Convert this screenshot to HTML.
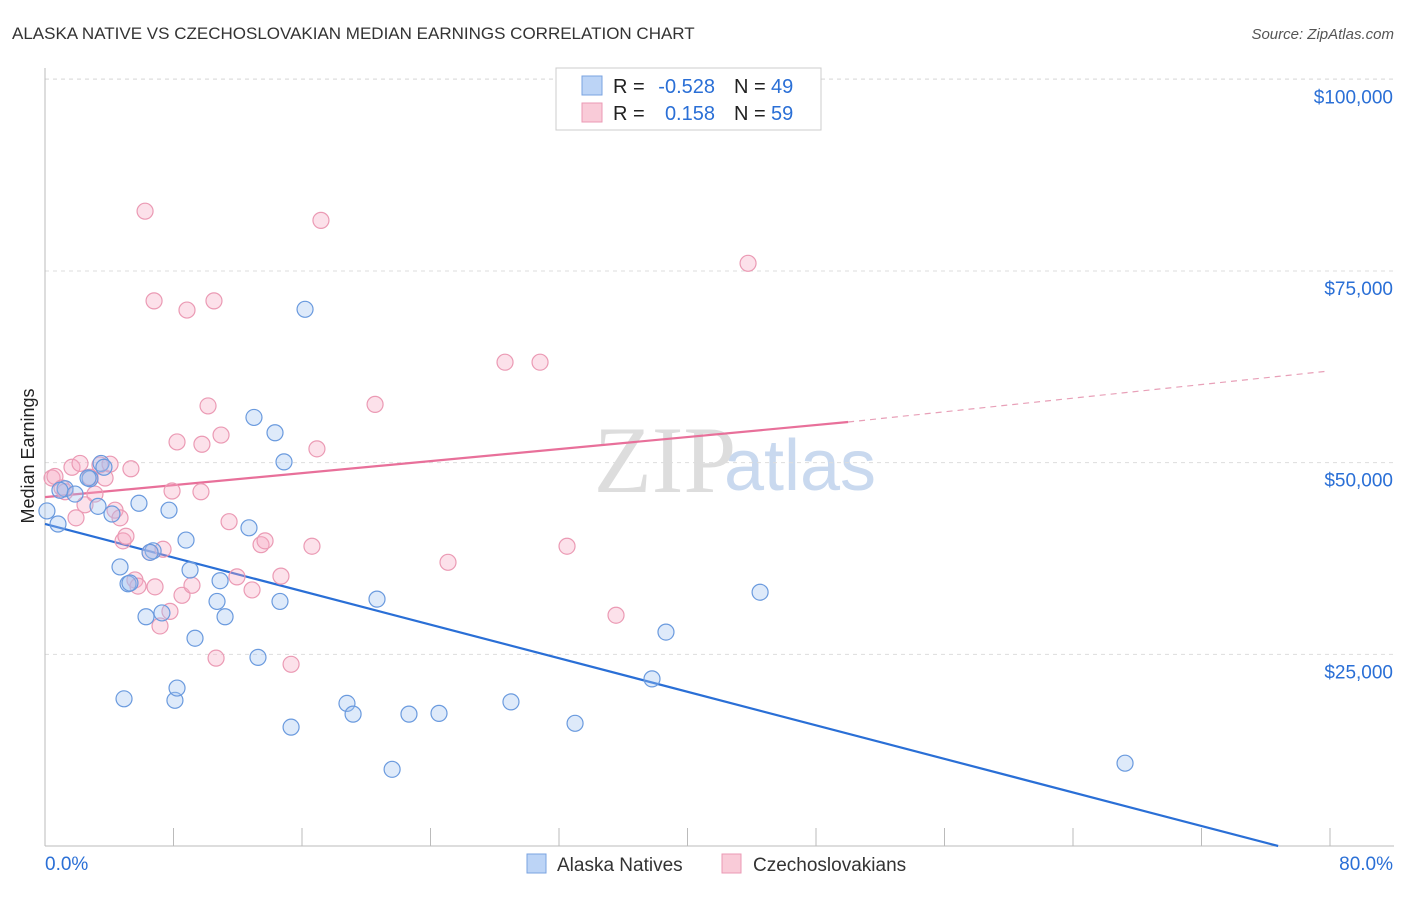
<!DOCTYPE html>
<html><head><meta charset="utf-8"><style>
body{margin:0;background:#fff;font-family:"Liberation Sans",sans-serif}
</style></head><body>
<svg id="c" width="1406" height="892" xmlns="http://www.w3.org/2000/svg">
<text x="12" y="39" font-size="17" fill="#333">ALASKA NATIVE VS CZECHOSLOVAKIAN MEDIAN EARNINGS CORRELATION CHART</text>
<text x="1394" y="39" font-size="15" fill="#555" text-anchor="end" font-style="italic">Source: ZipAtlas.com</text>
<text x="665" y="492" font-size="95" fill="#ddd" font-family="Liberation Serif,serif" text-anchor="middle">ZIP</text>
<text x="800" y="490" font-size="72" fill="#c9d9ef" text-anchor="middle">atlas</text>
<text transform="translate(34,456) rotate(-90)" font-size="18" fill="#222" text-anchor="middle">Median Earnings</text>
<g id="grid"></g><g id="lines"></g><g id="pts"></g>
<g>
<rect x="556" y="68" width="265" height="62" fill="#fff" stroke="#ccc"/>
<rect x="582" y="76" width="20" height="19" fill="#bcd4f6" stroke="#7aa3e0"/>
<rect x="582" y="103" width="20" height="19" fill="#f9cbd8" stroke="#eb9ab4"/>
<text x="613" y="93" font-size="20" fill="#222">R =</text>
<text x="715" y="93" font-size="20" fill="#2a6fd6" text-anchor="end">-0.528</text>
<text x="734" y="93" font-size="20" fill="#222">N =</text>
<text x="771" y="93" font-size="20" fill="#2a6fd6">49</text>
<text x="613" y="120" font-size="20" fill="#222">R =</text>
<text x="715" y="120" font-size="20" fill="#2a6fd6" text-anchor="end">0.158</text>
<text x="734" y="120" font-size="20" fill="#222">N =</text>
<text x="771" y="120" font-size="20" fill="#2a6fd6">59</text>
</g>
<g>
<rect x="527" y="854" width="19" height="19" fill="#bcd4f6" stroke="#7aa3e0"/>
<text x="557" y="871" font-size="19" fill="#333">Alaska Natives</text>
<rect x="722" y="854" width="19" height="19" fill="#f9cbd8" stroke="#eb9ab4"/>
<text x="753" y="871" font-size="19" fill="#333">Czechoslovakians</text>
</g>
</svg>
<script>
const yTicks=[25,50,75,100];
const xTickLabels=["0.0%","80.0%"];
const blueX=[0.12,0.81,1.25,1.87,2.80,3.30,3.49,3.67,4.17,4.67,5.17,5.85,4.92,6.29,6.73,7.28,7.72,8.09,8.22,8.78,9.03,9.34,10.71,10.90,11.21,12.70,13.01,13.26,14.32,14.63,14.88,15.32,16.19,18.80,19.18,20.67,21.61,22.66,24.53,29.01,33.0,37.79,38.66,44.52,67.24,2.68,0.93,6.54,5.29];
const blueY=[43.7,42.0,46.6,45.9,47.9,44.3,49.9,49.4,43.3,36.4,34.2,44.7,19.2,29.9,38.5,30.4,43.8,19.0,20.6,39.9,36.0,27.1,31.9,34.6,29.9,41.5,55.9,24.6,53.9,31.9,50.1,15.5,70.0,18.6,17.2,32.2,10.0,17.2,17.3,18.8,16.0,21.8,27.9,33.1,10.8,48.0,46.4,38.3,34.3];
const pinkX=[0.44,0.62,1.06,1.25,1.68,1.93,2.18,2.49,2.80,3.11,3.42,3.74,4.05,4.36,4.67,4.86,5.04,5.35,5.60,5.79,6.23,6.54,6.79,6.85,7.16,7.35,7.78,7.91,8.22,8.53,8.84,9.15,9.71,9.77,10.15,10.52,10.65,10.96,11.46,11.95,12.89,13.45,13.70,14.69,15.32,16.62,16.93,17.18,20.55,25.09,28.64,30.82,32.50,35.55,43.77];
const pinkY=[48.0,48.2,46.7,46.2,49.4,42.8,49.9,44.5,48.1,45.9,49.7,48.0,49.8,43.8,42.8,39.8,40.4,49.2,34.7,33.9,82.8,38.3,71.1,33.8,28.7,38.7,30.6,46.3,52.7,32.7,69.9,34.0,46.2,52.4,57.4,71.1,24.5,53.6,42.3,35.1,33.4,39.3,39.8,35.2,23.7,39.1,51.8,81.6,57.6,37.0,63.1,63.1,39.1,30.1,76.0];
const blueTrend=[[0,42.0],[76.77,0]];
const pinkTrend=[[0,45.5],[50,55.3]];
const pinkDash=[[50,55.3],[79.7,61.9]];
const NS="http://www.w3.org/2000/svg";
const sx=v=>45+v/80*1285, sy=v=>846-v*7.667;
function mk(t,a,p){const e=document.createElementNS(NS,t);for(const k in a)e.setAttribute(k,a[k]);p.appendChild(e);return e;}
const g=document.getElementById('grid');
yTicks.forEach(v=>{
 const l=mk('line',{x1:45,x2:1394,y1:sy(v),y2:sy(v),stroke:'#ddd','stroke-dasharray':'4 4'},g);
 
 
 const t=mk('text',{x:1393,y:sy(v)+24,'font-size':19,fill:'#2a6fd6','text-anchor':'end'},g);
 t.textContent='$'+v+',000';
 
 
});
const topLine=mk('line',{x1:45,x2:1394,y1:79,y2:79,stroke:'#ddd','stroke-dasharray':'4 4'},g);
mk('line',{x1:45,x2:45,y1:68,y2:846,stroke:'#bbb'},g);
const xa=mk('line',{x1:45,x2:1394,y1:846,y2:846,stroke:'#bbb'},g);


for(let i=0;i<=10;i++){mk('line',{x1:sx(i*8),x2:sx(i*8),y1:828,y2:846,stroke:'#bbb'},g);}
[[0,'start',45],[80,'end',1393]].forEach((d,i)=>{
 const t=mk('text',{x:d[2],y:870,'font-size':19,fill:'#2a6fd6','text-anchor':d[1]},g);
 t.textContent=xTickLabels[i];
 
 
});
const P=document.getElementById('pts');
function dots(X,Y,fill,stroke,name){X.forEach((x,i)=>{
 const c=mk('circle',{cx:sx(x),cy:sy(Y[i]),r:8,fill:fill,stroke:stroke,'stroke-width':1.2},P);
 
 
});}
dots(pinkX,pinkY,'rgba(246,170,195,0.35)','#eb9ab4','czechoslovakian-point');
dots(blueX,blueY,'rgba(160,195,240,0.35)','#6a9ade','alaska-native-point');
const L=document.getElementById('lines');
function ln(d,col,w,dash,name){const a={x1:sx(d[0][0]),y1:sy(d[0][1]),x2:sx(d[1][0]),y2:sy(d[1][1]),stroke:col,'stroke-width':w};if(dash)a['stroke-dasharray']=dash;const e=mk('line',a,L);
 
 }
ln(blueTrend,'#2a6fd6',2.2,null,'alaska-native-trendline');
ln(pinkTrend,'#e8709a',2.2,null,'czechoslovakian-trendline');
ln(pinkDash,'#e8a0b8',1.2,'6 5','czechoslovakian-trendline-extension');
</script>
</body></html>
